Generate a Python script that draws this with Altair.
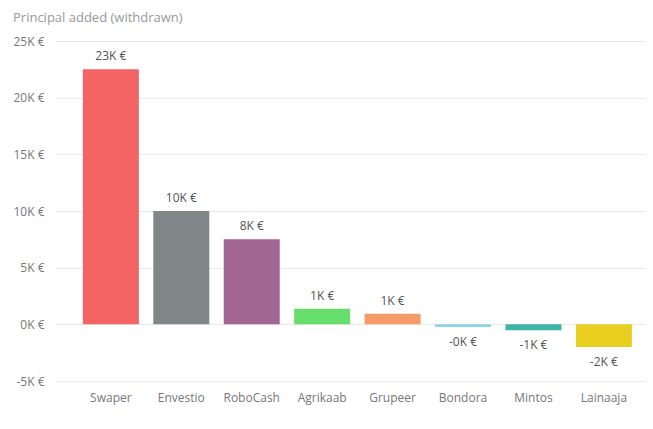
import altair as alt
import pandas as pd

categories = ["Swaper", "Envestio", "RoboCash", "Agrikaab", "Grupeer", "Bondora", "Mintos", "Lainaaja"]
values = [22500, 10000, 7500, 1380, 940, -230, -530, -2000]
colors = ["#F36464", "#7F8788", "#A26695", "#67DD6B", "#F59B6A", "#8DD3EC", "#3DB7A4", "#E8CE1E"]
y_ticks = [-5000, 0, 5000, 10000, 15000, 20000, 25000]

df = pd.DataFrame({"platform": categories, "value": values})

FONT = "Open Sans"

x = alt.X(
    "platform:N",
    sort=categories,
    title=None,
    scale=alt.Scale(paddingInner=0.205, paddingOuter=0.291, align=0.68),
    axis=alt.Axis(
        domain=False, ticks=False, grid=False, labelAngle=0,
        labelFont=FONT, labelFontSize=12, labelColor="#777777", labelPadding=11,
    ),
)
y = alt.Y(
    "value:Q",
    title=None,
    scale=alt.Scale(domain=[-5000, 25000], nice=False, zero=True),
    axis=alt.Axis(
        values=y_ticks,
        labelExpr="(datum.value < 0 ? '-' : '') + abs(datum.value) / 1000 + 'K €'",
        domain=False, ticks=False, grid=True, gridColor="#EAEAEA", gridWidth=1,
        labelFont=FONT, labelFontSize=12, labelColor="#777777", labelPadding=11,
    ),
)

base = alt.Chart(df).encode(x=x)

bars = base.mark_bar().encode(
    y=y,
    y2=alt.datum(0),
    color=alt.Color("platform:N", scale=alt.Scale(domain=categories, range=colors), legend=None),
)

label_calc = "(datum.value < 0 ? '-' : '') + round(abs(datum.value) / 1000) + 'K €'"

pos_labels = base.transform_filter("datum.value >= 0").transform_calculate(
    lbl=label_calc
).mark_text(baseline="bottom", dy=-6, font=FONT, fontSize=12, color="#555555").encode(
    y=alt.Y("value:Q"), text="lbl:N"
)

neg_labels = base.transform_filter("datum.value < 0").transform_calculate(
    lbl=label_calc
).mark_text(baseline="top", dy=10, font=FONT, fontSize=12, color="#555555").encode(
    y=alt.Y("value:Q"), text="lbl:N"
)

chart = (
    alt.layer(bars, pos_labels, neg_labels)
    .properties(
        width=590,
        height=340,
        autosize=alt.AutoSizeParams(type="none"),
        padding={"left": 47, "top": 33, "right": 0, "bottom": 35},
        title=alt.TitleParams(
            "Principal added (withdrawn)",
            anchor="start", frame="group", dx=-42, offset=10,
            font=FONT, fontSize=13, fontWeight="normal", color="#999999",
        ),
    )
    .configure_view(stroke=None)
)

chart.save("out.html", embed_options={"renderer": "svg", "actions": False})
